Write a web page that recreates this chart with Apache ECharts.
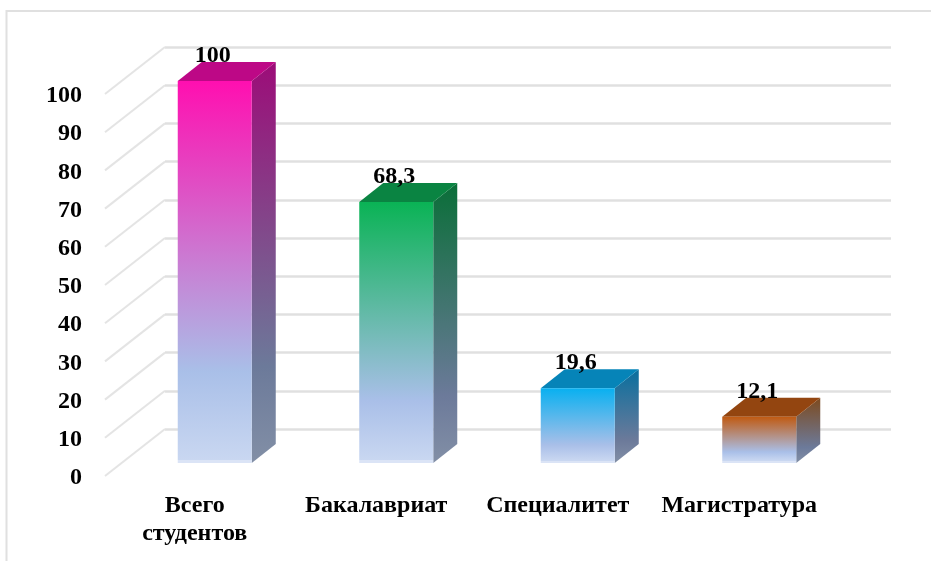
<!DOCTYPE html>
<html><head><meta charset="utf-8">
<style>html,body{margin:0;padding:0;background:#fff}#c{width:931px;height:561px}</style>
<script src="https://cdn.jsdelivr.net/npm/echarts@6/dist/echarts.min.js"></script></head>
<body><div id="c"></div>
<script>
const categories = ['Всего\nстудентов','Бакалавриат','Специалитет','Магистратура'];
const values = [100,68.3,19.6,12.1];
const valueLabels = ['100','68,3','19,6','12,1'];
const frontColors = ['#ff0fb0','#0ab355','#08b0f0','#c05a12'];
const topColors = ['#bd0886','#0a8442','#0684b8','#934510'];
const sideColors = ['#9c0c78','#0a6e38','#086f9e','#7d4a1e'];
const ticks = [0,10,20,30,40,50,60,70,80,90,100];
const FONT = '"Liberation Serif","Times New Roman",serif';
const chart = echarts.init(document.getElementById('c'),null,{renderer:'canvas'});
const DX=24, DY=-19, BW=74, SX=20, SY=-13;
function barItem(params, api){
  const i=api.value(0), v=api.value(1);
  const base=api.coord([i,0]), top=api.coord([i,v]);
  const x0=base[0]+SX-BW/2, x1=x0+BW, yb=base[1]+SY, yt=top[1]+SY;
  const h=yb-yt, strip=1-2.5/h;
  const front=new echarts.graphic.LinearGradient(0,0,0,1,[
    {offset:0,color:frontColors[i]},{offset:0.76,color:'#a9bfe8'},{offset:strip,color:'#c9d7f1'},{offset:strip,color:'#dbe4f6'},{offset:1,color:'#dbe4f6'}]);
  const side=new echarts.graphic.LinearGradient(0,0,0,1,[
    {offset:0,color:sideColors[i]},{offset:0.76,color:'#6c7a9a'},{offset:1,color:'#828fa6'}]);
  return {type:'group',children:[
    {type:'polygon',shape:{points:[[x1,yt],[x1+DX,yt+DY],[x1+DX,yb+DY],[x1,yb]]},style:{fill:side}},
    {type:'polygon',shape:{points:[[x0,yt],[x0+DX,yt+DY],[x1+DX,yt+DY],[x1,yt]]},style:{fill:topColors[i]}},
    {type:'rect',shape:{x:x0,y:yt,width:BW,height:h},style:{fill:front}},
    {type:'text',style:{x:x0+BW/2-2,y:yt-25,text:valueLabels[i],align:'center',verticalAlign:'middle',font:'bold 24px '+FONT,fill:'#000'}}
  ]};
}
function diagItem(params, api){
  const f=api.coord([api.value(0),api.value(1)]);
  const left=params.coordSys.x;
  return {type:'line',shape:{x1:left+1,y1:f[1],x2:left+61,y2:f[1]-47},style:{stroke:'#e4e4e4',lineWidth:2}};
}
chart.setOption({
  animation:false,
  backgroundColor:'#fff',
  graphic:[
    {type:'line',shape:{x1:6,y1:11,x2:931,y2:11},style:{stroke:'#e0e0e0',lineWidth:2},silent:true},
    {type:'line',shape:{x1:6.5,y1:10,x2:6.5,y2:561},style:{stroke:'#e0e0e0',lineWidth:2},silent:true}
  ],
  grid:[
    {left:104,top:94,width:726,height:382},
    {left:165,top:47,width:726,height:382}
  ],
  xAxis:[
    {type:'category',gridIndex:0,data:categories,axisLine:{show:false},axisTick:{show:false},
     axisLabel:{color:'#000',fontFamily:FONT,fontWeight:'bold',fontSize:24,lineHeight:28,margin:16,interval:0}},
    {type:'category',gridIndex:1,data:categories,show:false}
  ],
  yAxis:[
    {type:'value',gridIndex:0,min:0,max:100,interval:10,splitLine:{show:false},axisLine:{show:false},axisTick:{show:false},
     axisLabel:{color:'#000',fontFamily:FONT,fontWeight:'bold',fontSize:24,margin:22,verticalAlign:'top',lineHeight:4}},
    {type:'value',gridIndex:1,min:0,max:100,interval:10,show:true,axisLine:{show:false},axisTick:{show:false},axisLabel:{show:false},
     splitLine:{show:true,lineStyle:{color:'#e0e0e0',width:2.5}}}
  ],
  series:[
    {type:'custom',xAxisIndex:0,yAxisIndex:0,coordinateSystem:'cartesian2d',renderItem:diagItem,data:ticks.map(t=>[0,t]),silent:true,z:1},
    {type:'custom',xAxisIndex:0,yAxisIndex:0,coordinateSystem:'cartesian2d',renderItem:barItem,data:values.map((v,i)=>[i,v]),clip:false,z:5}
  ]
});
</script></body></html>
